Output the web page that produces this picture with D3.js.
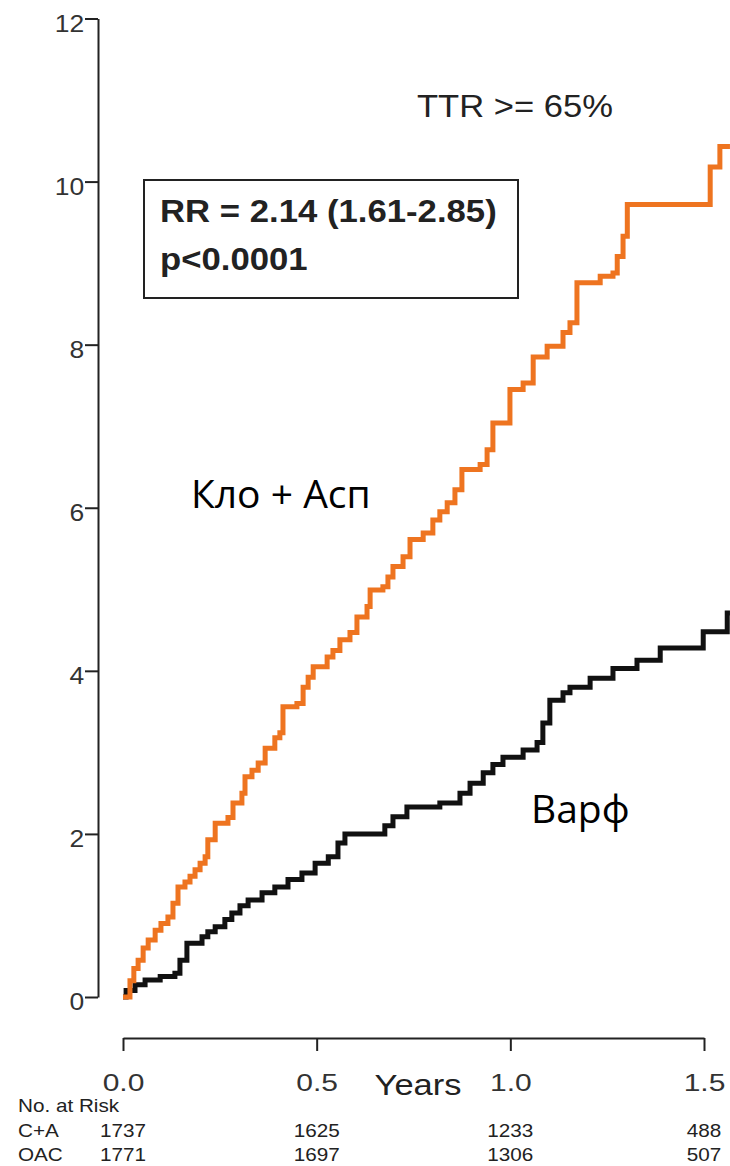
<!DOCTYPE html>
<html>
<head>
<meta charset="utf-8">
<script src="https://cdn.jsdelivr.net/npm/d3@7"></script>
<style>
  body { margin: 0; background: #fff; }
  svg { display: block; }
</style>
</head>
<body>
<svg id="chart" width="730" height="1166"></svg>
<script>
// Clo + Asp (orange), step points: years and cumulative %
const caYears = [0, 0.018, 0.028, 0.039, 0.052, 0.065, 0.083, 0.098, 0.116, 0.129, 0.142, 0.160, 0.173, 0.186, 0.199,
  0.212, 0.219, 0.238, 0.271, 0.284, 0.307, 0.315, 0.333, 0.349, 0.367, 0.392, 0.405, 0.413, 0.449, 0.465, 0.478,
  0.491, 0.527, 0.542, 0.560, 0.586, 0.604, 0.630, 0.638, 0.671, 0.684, 0.697, 0.723, 0.741, 0.775, 0.800, 0.818,
  0.837, 0.857, 0.875, 0.922, 0.940, 0.955, 0.999, 1.033, 1.059, 1.095, 1.136, 1.154, 1.172, 1.232, 1.265, 1.276,
  1.291, 1.302, 1.516, 1.541, 1.567];
const caValues = [0, 0.2, 0.35, 0.45, 0.6, 0.7, 0.82, 0.9, 0.98, 1.15, 1.35, 1.41, 1.48, 1.56, 1.64,
  1.72, 1.93, 2.13, 2.2, 2.38, 2.5, 2.7, 2.78, 2.87, 3.05, 3.18, 3.24, 3.56, 3.6, 3.8, 3.92,
  4.05, 4.17, 4.25, 4.38, 4.47, 4.66, 4.79, 4.99, 5.03, 5.15, 5.28, 5.4, 5.61, 5.69, 5.85, 5.95,
  6.06, 6.22, 6.47, 6.53, 6.71, 7.04, 7.45, 7.53, 7.85, 7.98, 8.15, 8.27, 8.76, 8.84, 8.88, 9.08,
  9.33, 9.72, 10.18, 10.43, 10.43];

// Warfarin / OAC (black)
const oacYears = [0, 0.008, 0.031, 0.057, 0.096, 0.134, 0.147, 0.165, 0.204, 0.219, 0.238, 0.263, 0.281, 0.302,
  0.323, 0.359, 0.392, 0.426, 0.462, 0.496, 0.530, 0.555, 0.573, 0.676, 0.697, 0.733, 0.818, 0.870, 0.896, 0.930,
  0.955, 0.981, 1.033, 1.069, 1.084, 1.102, 1.136, 1.154, 1.206, 1.265, 1.327, 1.387, 1.498, 1.560, 1.567];
const oacValues = [0, 0.08, 0.15, 0.21, 0.25, 0.29, 0.45, 0.66, 0.74, 0.8, 0.86, 0.95, 1.03, 1.12,
  1.19, 1.28, 1.35, 1.44, 1.52, 1.64, 1.72, 1.89, 2.0, 2.1, 2.21, 2.33, 2.38, 2.5, 2.62, 2.75,
  2.85, 2.94, 3.03, 3.12, 3.36, 3.64, 3.73, 3.8, 3.91, 4.03, 4.13, 4.28, 4.48, 4.71, 4.71];

const yTicks = [0, 2, 4, 6, 8, 10, 12];
const xTicks = [0, 0.5, 1.0, 1.5];
const riskLabels = ["C+A", "OAC"];
const riskCA = [1737, 1625, 1233, 488];
const riskOAC = [1771, 1697, 1306, 507];

const svg = d3.select("#chart");
const helv = "'Liberation Sans', Arial, Helvetica, sans-serif";
const calib = "'Open Sans', 'Noto Sans', sans-serif";

const x = d3.scaleLinear().domain([0, 1.5]).range([123, 704]);
const y = d3.scaleLinear().domain([0, 12]).range([997, 18.5]);

// stretched text helper (the source figure is a bit wider than tall)
function stext(str, px, py, size, sx, opts) {
  opts = opts || {};
  return svg.append("text")
    .attr("transform", `translate(${px},${py}) scale(${sx},1)`)
    .attr("text-anchor", opts.anchor || "start")
    .style("font-family", opts.family || helv)
    .style("font-size", size + "px")
    .style("font-weight", opts.weight || "normal")
    .style("fill", opts.fill || "#222")
    .text(str);
}

// y axis
const yAxis = svg.append("g")
  .attr("transform", "translate(98,0)")
  .call(d3.axisLeft(y).tickValues(yTicks).tickSize(13).tickSizeOuter(0).tickFormat(d3.format("d")));
yAxis.select(".domain").attr("stroke", "#222").attr("stroke-width", 2);
yAxis.selectAll(".tick line").attr("stroke", "#222").attr("stroke-width", 2);
yAxis.selectAll(".tick text")
  .attr("x", -12)
  .attr("dy", "0.55em")
  .attr("transform", "scale(1.15,1)")
  .style("font-family", helv)
  .style("font-size", "23px")
  .style("fill", "#333");

// x axis (separate, below the plot)
const xAxis = svg.append("g")
  .attr("transform", "translate(0,1038)")
  .call(d3.axisBottom(x).tickValues(xTicks).tickSize(13).tickSizeOuter(0).tickFormat(d3.format(".1f")));
xAxis.select(".domain").attr("stroke", "#222").attr("stroke-width", 2);
xAxis.selectAll(".tick line").attr("stroke", "#222").attr("stroke-width", 2);
xAxis.selectAll(".tick text")
  .attr("y", 53)
  .attr("dy", 0)
  .attr("transform", "scale(1.25,1)")
  .style("font-family", helv)
  .style("font-size", "24px")
  .style("fill", "#333");

stext("Years", 418, 1095, 30, 1.15, {anchor: "middle"});

// curves
const line = d3.line()
  .x(d => x(d[0]))
  .y(d => y(d[1]))
  .curve(d3.curveStepAfter);

svg.append("path")
  .datum(d3.zip(oacYears, oacValues))
  .attr("d", line)
  .attr("fill", "none")
  .attr("stroke", "#111")
  .attr("stroke-width", 5)
  .attr("stroke-linejoin", "miter");

svg.append("path")
  .datum(d3.zip(caYears, caValues))
  .attr("d", line)
  .attr("fill", "none")
  .attr("stroke", "#EE7420")
  .attr("stroke-width", 5)
  .attr("stroke-linejoin", "miter");

// annotations
stext("TTR >= 65%", 417, 117, 32, 1.08);

svg.append("rect")
  .attr("x", 144).attr("y", 180)
  .attr("width", 374).attr("height", 118)
  .attr("fill", "none")
  .attr("stroke", "#222")
  .attr("stroke-width", 2);
stext("RR = 2.14 (1.61-2.85)", 160, 222, 31, 1.12, {weight: "bold"});
stext("p<0.0001", 160, 270, 31, 1.12, {weight: "bold"});

stext("Кло + Асп", 191, 508, 39, 1, {family: calib, fill: "#000"});
stext("Варф", 531, 823, 39, 1, {family: calib, fill: "#000"});

// number at risk table
stext("No. at Risk", 18, 1112, 18, 1.15);
const rows = [riskCA, riskOAC];
rows.forEach((vals, i) => {
  const ry = 1137 + i * 24;
  stext(riskLabels[i], 18, ry, 18, 1.15);
  vals.forEach((v, j) => {
    stext(v, x(xTicks[j]), ry, 18, 1.15, {anchor: "middle"});
  });
});
</script>
</body>
</html>
